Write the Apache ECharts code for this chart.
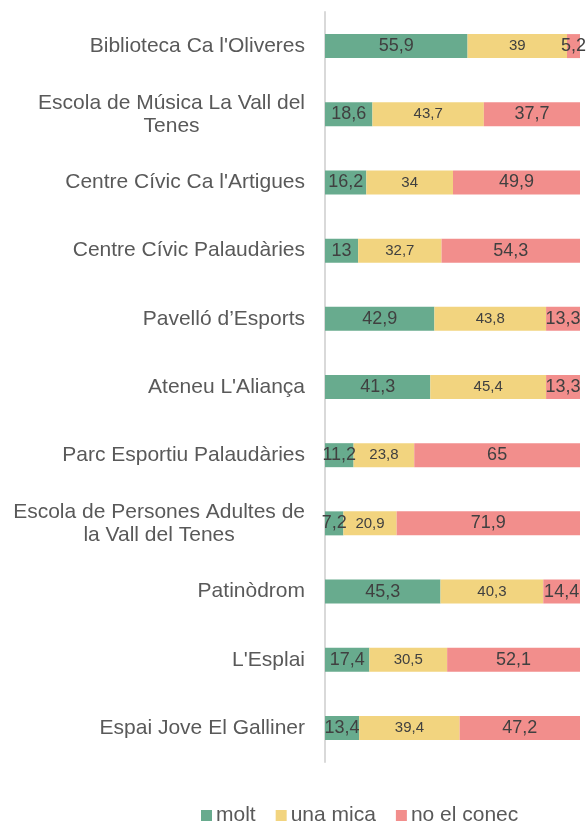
<!DOCTYPE html>
<html>
<head>
<meta charset="utf-8">
<script src="https://cdn.jsdelivr.net/npm/echarts@6/dist/echarts.min.js"></script>
<style>
  html, body { margin: 0; padding: 0; background: #fff; }
  #main { width: 588px; height: 823px; }
</style>
</head>
<body>
<div id="main"></div>
<script>
/*##########  coneixement dels equipaments  ##########*/
var categories = [
    'Biblioteca Ca l\'Oliveres',
    'Escola de Música La Vall del\nTenes',
    'Centre Cívic Ca l\'Artigues',
    'Centre Cívic Palaudàries',
    'Pavelló d’Esports',
    'Ateneu L\'Aliança',
    'Parc Esportiu Palaudàries',
    'Escola de Persones Adultes de\nla Vall del Tenes',
    'Patinòdrom',
    'L\'Esplai',
    'Espai Jove El Galliner'
];
var molt     = [55.9, 18.6, 16.2, 13, 42.9, 41.3, 11.2, 7.2, 45.3, 17.4, 13.4];
var unaMica  = [39, 43.7, 34, 32.7, 43.8, 45.4, 23.8, 20.9, 40.3, 30.5, 39.4];
var noConec  = [5.2, 37.7, 49.9, 54.3, 13.3, 13.3, 65, 71.9, 14.4, 52.1, 47.2];

var font = 'Liberation Sans, Arial, sans-serif';
var catSize = 21;
var ctx = document.createElement('canvas').getContext('2d');
ctx.font = catSize + 'px ' + font;

var rich = { c: { align: 'center', fontSize: catSize, color: '#595959', fontFamily: font, lineHeight: 23 } };

// two-line labels are centred inside their own block
function catLabel(v) {
    var lines = v.split('\n');
    if (lines.length === 1) return v;
    var w = 0;
    lines.forEach(function (l) { w = Math.max(w, ctx.measureText(l).width); });
    rich.c.width = Math.ceil(w);
    return lines.map(function (l) { return '{c|' + l + '}'; }).join('\n');
}

function comma(p) { return String(p.value).replace('.', ','); }

var dom = document.getElementById('main');
var myChart = echarts.init(dom);

var option = {
    animation: false,
    textStyle: { fontFamily: font },
    legend: {
        top: 800,
        left: 196,
        itemWidth: 11,
        itemHeight: 11,
        itemGap: 20,
        icon: 'rect',
        textStyle: { fontSize: 21, color: '#595959', fontFamily: font, padding: [0, 0, 0, -1] },
        data: ['molt', 'una mica', 'no el conec']
    },
    grid: { left: 325, right: 8, top: 12, bottom: 61 },
    xAxis: {
        type: 'value',
        min: 0,
        max: 100,
        show: false
    },
    yAxis: {
        type: 'category',
        inverse: true,
        data: categories,
        axisLine: { lineStyle: { color: '#d9d9d9', width: 2 } },
        axisTick: { show: false },
        axisLabel: {
            margin: 20,
            fontSize: catSize,
            color: '#595959',
            fontFamily: font,
            lineHeight: 23,
            formatter: catLabel,
            rich: rich
        }
    },
    series: [
        {
            name: 'molt',
            type: 'bar',
            stack: 'total',
            barWidth: 24,
            data: molt,
            itemStyle: { color: '#68ab8e' },
            label: { show: true, position: 'inside', formatter: comma, fontSize: 18, color: '#404040', fontFamily: font }
        },
        {
            name: 'una mica',
            type: 'bar',
            stack: 'total',
            data: unaMica,
            itemStyle: { color: '#f2d47f' },
            label: { show: true, position: 'inside', formatter: comma, fontSize: 15, color: '#404040', fontFamily: font }
        },
        {
            name: 'no el conec',
            type: 'bar',
            stack: 'total',
            data: noConec,
            itemStyle: { color: '#f28e8c' },
            label: { show: true, position: 'inside', formatter: comma, fontSize: 18, color: '#404040', fontFamily: font }
        }
    ]
};
myChart.setOption(option);
</script>
</body>
</html>
